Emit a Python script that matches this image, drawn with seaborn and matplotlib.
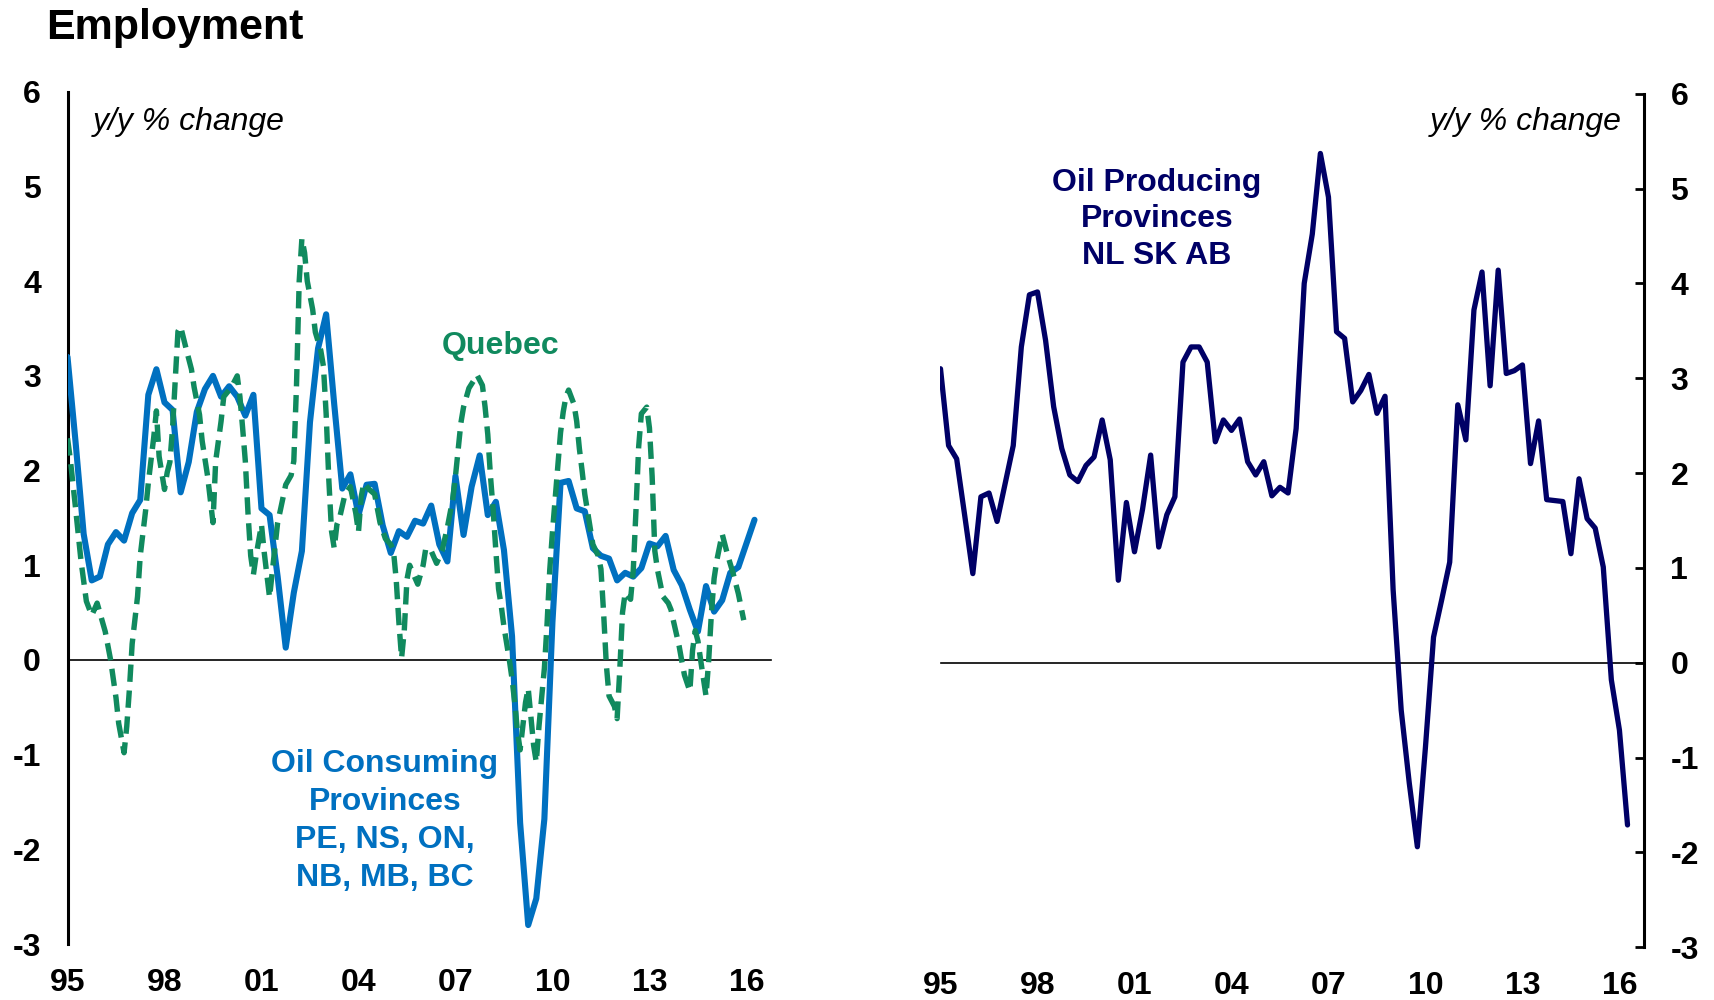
import numpy as np
import pandas as pd
import matplotlib
matplotlib.use("Agg")
import matplotlib.pyplot as plt
import seaborn as sns

# ---------------- data ----------------
start_year = 1995

# Quarterly y/y % change, 1995Q1 .. 2016Q2
consuming = [3.20, 2.30, 1.33, 0.84, 0.88, 1.22, 1.35, 1.26, 1.55, 1.69,
             2.80, 3.07, 2.72, 2.64, 1.77, 2.09, 2.62, 2.86, 3.00, 2.78,
             2.89, 2.78, 2.58, 2.80, 1.60, 1.53, 0.88, 0.13, 0.71, 1.15,
             2.51, 3.29, 3.65, 2.70, 1.81, 1.96, 1.53, 1.85, 1.86, 1.42,
             1.13, 1.36, 1.30, 1.47, 1.44, 1.63, 1.22, 1.04, 1.94, 1.32,
             1.83, 2.16, 1.53, 1.67, 1.16, 0.25, -1.72, -2.80, -2.52, -1.68,
             0.40, 1.87, 1.89, 1.60, 1.57, 1.18, 1.10, 1.07, 0.84, 0.92,
             0.88, 0.97, 1.23, 1.20, 1.31, 0.95, 0.79, 0.53, 0.30, 0.78,
             0.51, 0.63, 0.92, 0.98, 1.23, 1.48]

producing = [3.10, 2.29, 2.15, 1.55, 0.94, 1.75, 1.79, 1.49, 1.89, 2.29,
             3.33, 3.88, 3.91, 3.40, 2.70, 2.26, 1.98, 1.91, 2.08, 2.17,
             2.56, 2.14, 0.87, 1.69, 1.17, 1.62, 2.19, 1.22, 1.56, 1.75,
             3.17, 3.33, 3.33, 3.17, 2.33, 2.56, 2.45, 2.57, 2.12, 1.98,
             2.12, 1.76, 1.85, 1.79, 2.47, 4.00, 4.52, 5.37, 4.91, 3.49,
             3.42, 2.75, 2.87, 3.04, 2.63, 2.81, 0.77, -0.50, -1.27, -1.94,
             -0.89, 0.27, 0.66, 1.06, 2.72, 2.35, 3.72, 4.12, 2.92, 4.14,
             3.05, 3.08, 3.14, 2.10, 2.55, 1.72, 1.71, 1.70, 1.15, 1.94,
             1.52, 1.42, 1.01, -0.18, -0.71, -1.71]

# Quebec: monthly (month index from Jan 1995) and y/y % change
quebec_month = [0, 1, 3, 5, 7, 9, 11, 14, 16, 18, 19, 21, 22, 23, 24, 26, 27, 29,
                30, 32, 33, 34, 36, 37, 38, 39, 40, 41, 42, 44, 46, 47, 49, 50, 52,
                54, 55, 57, 58, 60, 61, 63, 64, 65, 66, 67, 68, 69, 70, 72, 73, 75,
                76, 78, 79, 81, 83, 84, 85, 86, 87, 88, 89, 91, 92, 94, 95, 96, 97,
                98, 99, 100, 101, 103, 105, 107, 108, 109, 110, 112, 114, 116, 118,
                120, 121, 122, 123, 124, 125, 126, 127, 128, 130, 132, 133, 135,
                137, 139, 141, 143, 144, 146, 147, 149, 151, 152, 154, 155, 156,
                157, 158, 159, 160, 161, 162, 164, 165, 166, 167, 168, 170, 171,
                172, 173, 174, 175, 176, 177, 178, 179, 180, 181, 182, 183, 184,
                185, 186, 188, 189, 190, 191, 192, 194, 195, 197, 198, 199, 200,
                201, 203, 204, 205, 206, 207, 209, 210, 211, 212, 213, 215, 216,
                217, 218, 219, 221, 223, 224, 225, 227, 228, 229, 231, 232, 233,
                234, 235, 237, 238, 239, 240, 241, 243, 244, 245, 247, 249, 251]
quebec_vals = [2.34, 2.13, 1.60, 1.05, 0.62, 0.47, 0.60, 0.30, 0.00, -0.40, -0.67,
               -0.98, -0.70, -0.30, 0.17, 0.67, 1.10, 1.58, 1.87, 2.35, 2.63, 2.15,
               1.80, 1.98, 2.09, 2.45, 2.96, 3.47, 3.52, 3.29, 3.07, 2.88, 2.59,
               2.31, 1.94, 1.45, 2.10, 2.52, 2.78, 2.85, 2.89, 3.00, 2.78, 2.45,
               2.10, 1.55, 1.10, 0.90, 1.10, 1.43, 1.14, 0.66, 0.93, 1.45, 1.58,
               1.85, 1.95, 2.10, 2.90, 4.00, 4.45, 4.30, 4.00, 3.70, 3.46, 3.27,
               3.10, 2.60, 1.90, 1.36, 1.18, 1.43, 1.50, 1.75, 1.83, 1.55, 1.35,
               1.72, 1.87, 1.80, 1.75, 1.45, 1.28, 1.22, 1.15, 0.85, 0.40, 0.02,
               0.31, 0.85, 1.00, 0.93, 0.80, 1.00, 1.18, 1.15, 1.02, 1.15, 1.40,
               1.70, 1.94, 2.50, 2.67, 2.87, 2.96, 3.01, 2.90, 2.67, 2.38, 1.94,
               1.58, 1.15, 0.75, 0.57, 0.35, 0.00, -0.20, -0.45, -0.75, -0.95,
               -0.45, -0.30, -0.60, -0.90, -1.08, -0.70, -0.40, -0.09, 0.38, 0.95,
               1.35, 1.70, 2.05, 2.40, 2.62, 2.78, 2.85, 2.70, 2.52, 2.23, 2.00,
               1.75, 1.40, 1.22, 1.10, 0.96, 0.49, -0.05, -0.38, -0.49, -0.62,
               -0.10, 0.50, 0.71, 0.64, 0.95, 1.58, 2.25, 2.60, 2.67, 2.45, 1.94,
               1.15, 0.95, 0.67, 0.60, 0.53, 0.40, 0.15, -0.01, -0.16, -0.33, 0.10,
               0.31, 0.20, 0.00, -0.38, 0.00, 0.49, 0.86, 1.05, 1.33, 1.22, 1.11,
               0.92, 0.70, 0.42]

year_ticks = [1995, 1998, 2001, 2004, 2007, 2010, 2013, 2016]
year_labels = ['95', '98', '01', '04', '07', '10', '13', '16']
y_ticks = [-3, -2, -1, 0, 1, 2, 3, 4, 5, 6]

BLUE = '#0070C0'
GREEN = '#108A5E'
NAVY = '#000066'

# ---------------- style ----------------
sns.set_style('white')
plt.rcParams['font.family'] = ['Liberation Sans', 'DejaVu Sans']
plt.rcParams['font.weight'] = 'bold'
plt.rcParams['text.color'] = 'black'
plt.rcParams['axes.labelcolor'] = 'black'
plt.rcParams['xtick.color'] = 'black'
plt.rcParams['ytick.color'] = 'black'

df_q = pd.DataFrame({
    'year': start_year + np.arange(len(consuming)) / 4.0,
    'consuming': consuming,
    'producing': producing,
})
df_que = pd.DataFrame({
    'year': start_year + np.array(quebec_month) / 12.0,
    'quebec': quebec_vals,
})

fig = plt.figure(figsize=(17.15, 10), dpi=100)
XMAX = 1995 + 703.5 / 32.33
ax1 = fig.add_axes([67.5 / 1715, 1 - 944 / 1000, 703.5 / 1715, (944 - 91.8) / 1000])
ax2 = fig.add_axes([940.5 / 1715, 1 - 947.3 / 1000, 703.5 / 1715, (947.3 - 93.7) / 1000])

sns.lineplot(data=df_q, x='year', y='consuming', ax=ax1, color=BLUE, lw=4.4,
             sort=False, estimator=None, zorder=3)
sns.lineplot(data=df_que, x='year', y='quebec', ax=ax1, color=GREEN, lw=3.9,
             linestyle=(0, (3.2, 1.6)), sort=False, estimator=None, zorder=4)
sns.lineplot(data=df_q, x='year', y='producing', ax=ax2, color=NAVY, lw=3.8,
             sort=False, estimator=None, zorder=3)


def style(ax, side):
    ax.set_xlim(1995, XMAX)
    ax.set_ylim(-3, 6)
    ax.set_xlabel('')
    ax.set_ylabel('')
    ax.spines['top'].set_visible(False)
    if side == 'left':
        ax.spines['right'].set_visible(False)
        ax.spines['left'].set_linewidth(2.2)
        ax.spines['left'].set_color('black')
    else:
        ax.spines['left'].set_visible(False)
        ax.spines['right'].set_visible(True)
        ax.spines['right'].set_linewidth(2.2)
        ax.spines['right'].set_color('black')
        ax.yaxis.tick_right()
    ax.spines['bottom'].set_position(('data', 0))
    ax.spines['bottom'].set_linewidth(1.2)
    ax.spines['bottom'].set_color('black')
    ax.set_yticks(y_ticks)
    ax.set_yticklabels([str(v) for v in y_ticks])
    ax.tick_params(axis='y', direction='in', length=6.5, width=2.0, pad=19,
                   labelsize=23, colors='black')
    ax.set_xticks(year_ticks)
    ax.tick_params(axis='x', direction='in', length=6.5, width=0.8,
                   color='#555555', labelbottom=False)
    sec = ax.secondary_xaxis(0)
    sec.set_xticks(year_ticks)
    sec.set_xticklabels(year_labels)
    sec.tick_params(length=0, pad=17, labelsize=23, colors='black')
    sec.spines['bottom'].set_visible(False)
    ax.grid(False)


style(ax1, 'left')
style(ax2, 'right')

ax1.text(1995.79, 5.68, 'y/y % change', style='italic', fontweight='normal',
         fontsize=23, ha='left', va='center')
ax2.text(2016.08, 5.70, 'y/y % change', style='italic', fontweight='normal',
         fontsize=23, ha='right', va='center')
ax1.text(2008.38, 3.32, 'Quebec', color=GREEN, fontsize=23, ha='center', va='center')
ax1.text(2004.82, -1.70, 'Oil Consuming\nProvinces\nPE, NS, ON,\nNB, MB, BC',
         color=BLUE, fontsize=23, ha='center', va='center', linespacing=1.35)
ax2.text(2001.70, 4.675, 'Oil Producing\nProvinces\nNL SK AB',
         color=NAVY, fontsize=23, ha='center', va='center', linespacing=1.29)
fig.text(46 / 1715, 1 - 28 / 1000, 'Employment', fontsize=31, ha='left', va='center')

fig.savefig('out.png', dpi=100)
